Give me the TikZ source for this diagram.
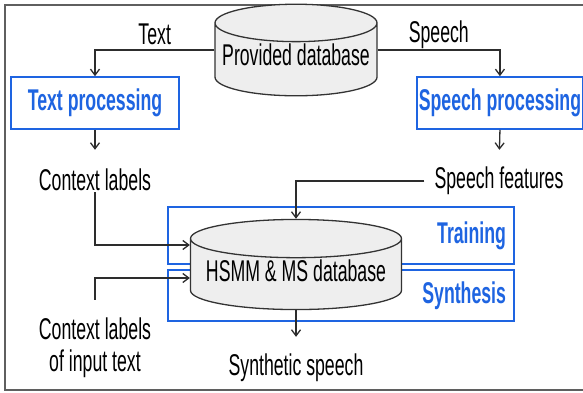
\documentclass[tikz,border=0pt]{standalone}
\usepackage{fontspec}
\setmainfont{Liberation Sans}[FakeStretch=0.59]
\usetikzlibrary{shapes.geometric,arrows.meta}
\definecolor{procblue}{RGB}{30,100,225}
\definecolor{linegray}{RGB}{45,45,45}
\definecolor{framegray}{RGB}{95,95,95}
\definecolor{dbfill}{RGB}{238,238,238}
\tikzset{
  every node/.style={font=\fontsize{30}{32}\selectfont, inner sep=1pt},
  flow/.style={draw=linegray, line width=1.3pt, -{Straight Barb[length=6pt,width=9pt]}},
  database/.style={cylinder, shape border rotate=90, draw=black!80, line width=1.3pt, fill=dbfill, aspect=#1, anchor=shape center},
  procbox/.style={draw=procblue, line width=1.6pt, text=procblue, font=\fontsize{30}{32}\selectfont\bfseries},
  phasebox/.style={procbox, text width=330pt, align=right, inner xsep=8pt}
}
\begin{document}
\begin{tikzpicture}[x=1pt, y=-1pt]
\useasboundingbox (0,0) rectangle (583,392);
\clip (0,0) rectangle (583,392);
%%% frame
\draw[framegray, line width=2pt] (600,5) -- (5,5) -- (5,390) -- (600,390);

%%% phases
\node[phasebox, minimum height=57pt] (train) at (341,235.5) {Training};
\node[phasebox, minimum height=51pt] (synth) at (341,295.5) {Synthesis};

%%% databases
\node[database=0.25, minimum width=162pt, minimum height=66pt, text depth=14pt] (pdb) at (296,50) {Provided database};
\node[database=0.21, minimum width=211pt, minimum height=85pt, text depth=11pt] (hsmm) at (296,264.5) {HSMM \& MS database};

%%% processing
\node[procbox, minimum width=168pt, minimum height=52pt] (tp) at (95,103) {Text processing};
\node[procbox, anchor=west, inner xsep=2pt, minimum height=52pt] (sp) at (416,103) {Speech processing};

%%% labels
\node (ctx) at (95,180) {Context labels};
\node (sf) at (499,181) {Speech features};
\node[align=center] (ctxin) at (95,348) {Context labels\\of input text};
\node (syn) at (296,368) {Synthetic speech};

%%% connectors
\draw[flow] (pdb.shape center -| pdb.west) -| node[pos=0.25, above=4pt] {Text} (tp.north);
\draw[flow] (pdb.shape center -| pdb.east) -| node[pos=0.25, above] {Speech} (sp.north);
\draw[flow, shorten >=18pt] (tp.south) -- (ctx.north);
\draw[flow, shorten >=16pt] (sp.south) -- (sf.north);
\draw[flow, shorten <=9pt] (sf.west) -| (hsmm.north);
\draw[flow] (ctx.south) |- ([yshift=19.5pt]hsmm.shape center -| hsmm.west);
\draw[flow, shorten <=17pt] (ctxin.north) |- ([yshift=-13.5pt]hsmm.shape center -| hsmm.west);
\draw[flow, shorten >=16pt] (hsmm.south) -- (syn.north);
\end{tikzpicture}
\end{document}
